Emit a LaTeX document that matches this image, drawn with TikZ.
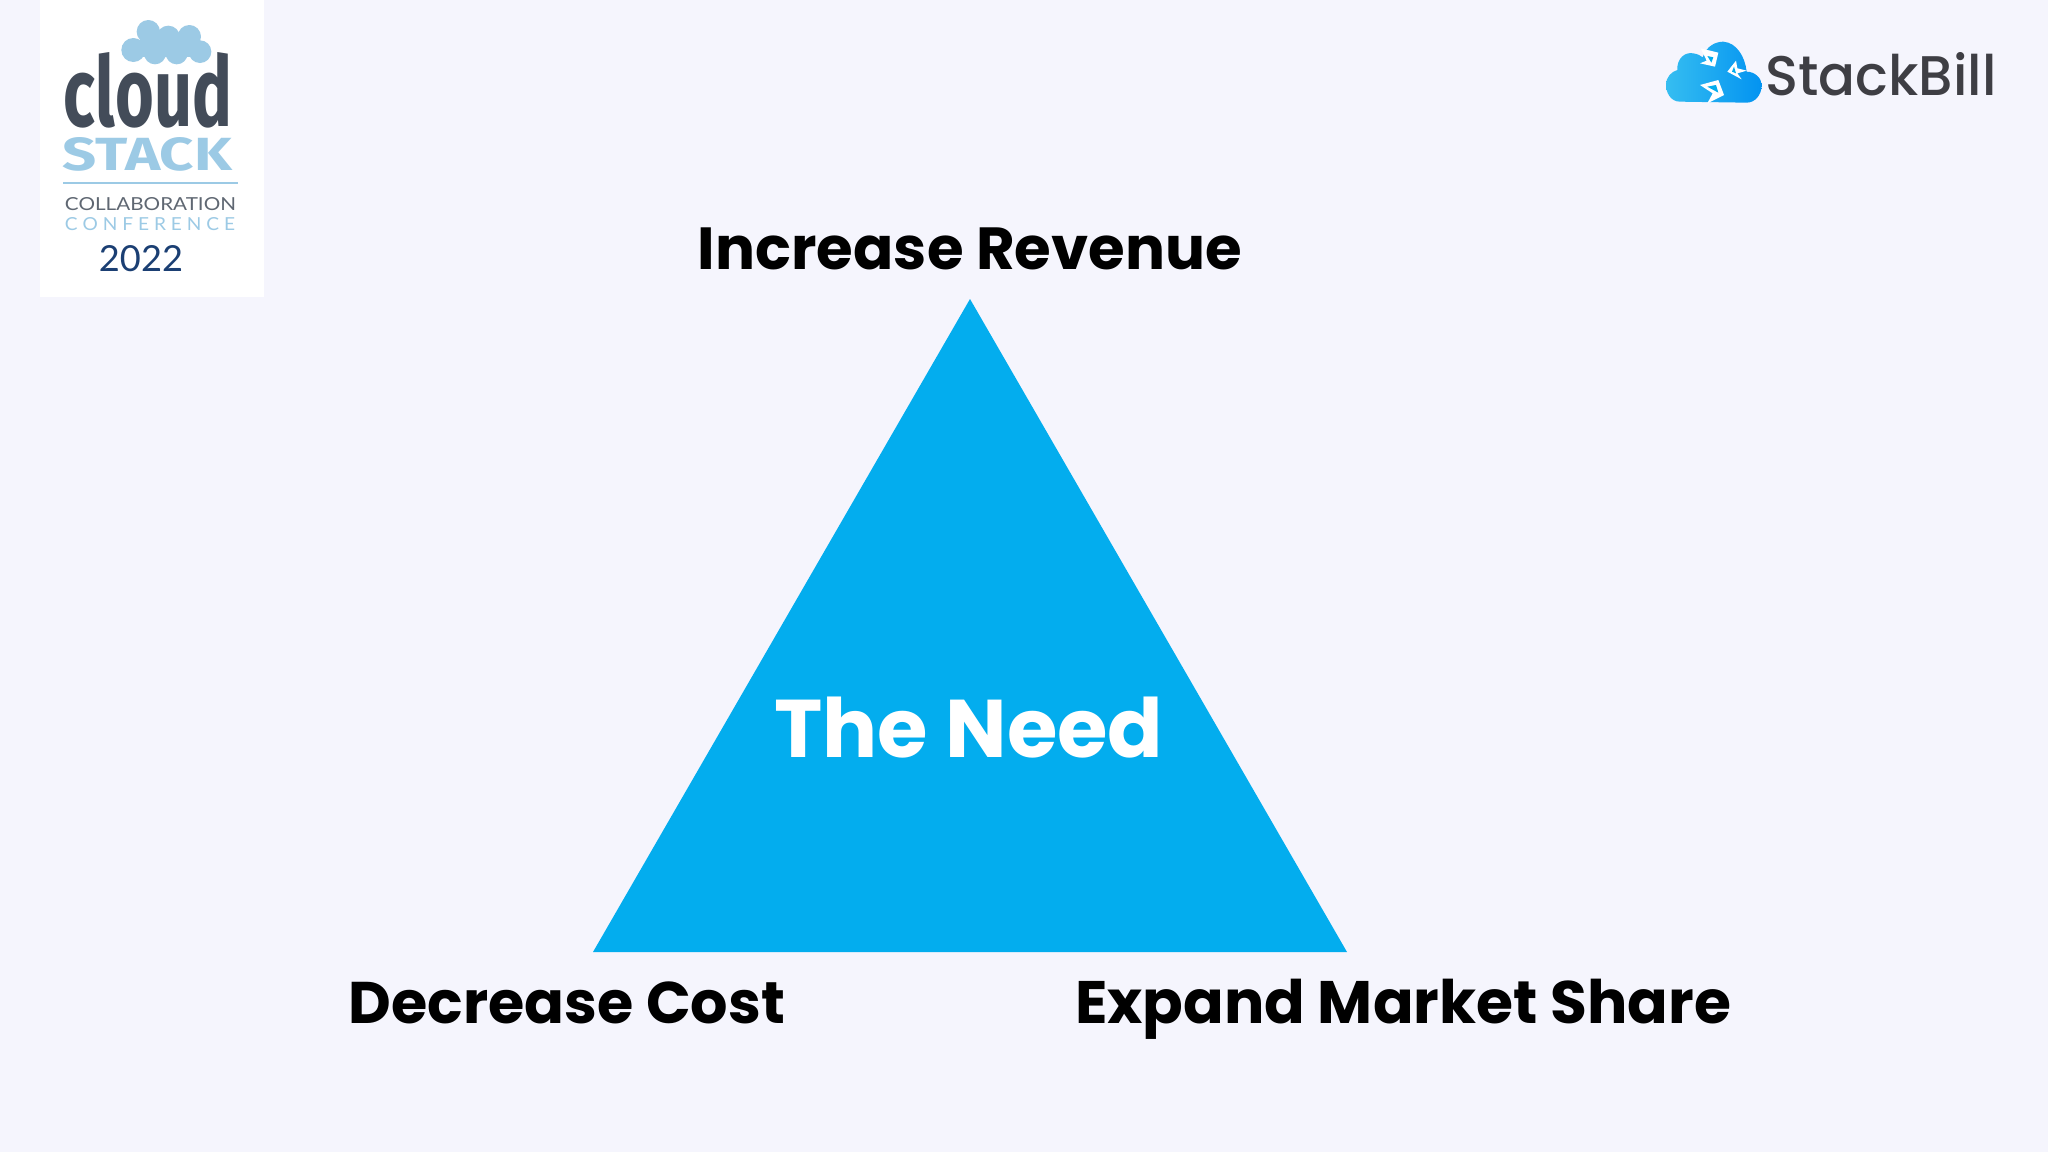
\documentclass[tikz,border=0pt]{standalone}
\usepackage{fontspec}
\usepackage{graphicx}
\setmainfont{Poppins}
\newfontfamily\logofont{Fira Sans}
\newfontfamily\lightfont{Lato}
\newfontfamily\sbfont{Poppins Medium}
\definecolor{bgc}{HTML}{F5F5FD}
\definecolor{tric}{HTML}{03ADEE}
\definecolor{lblue}{HTML}{9CCAE5}
\definecolor{dslate}{HTML}{434C59}
\definecolor{navy}{HTML}{1B3F73}
\definecolor{sbtext}{HTML}{3E3E44}
\tikzset{
 headline/.style={anchor=base,text=black,inner sep=0pt,font=\fontsize{58}{58}\selectfont\bfseries},
 logotext/.style={anchor=center,inner sep=0pt},
}
\begin{document}
\begin{tikzpicture}[x=1pt,y=-1pt]
\useasboundingbox (0,0) rectangle (2048,1152);
\fill[bgc] (0,0) rectangle (2048,1152);
% triangle
\fill[tric] (970,299) coordinate (apex) -- (1347,952) -- (593,952) -- cycle;
\node[headline] (inc) at (970,269) {\resizebox{544pt}{!}{Increase Revenue}};
\node[headline] (dec) at (567,1023) {\resizebox{436pt}{!}{Decrease Cost}};
\node[headline] (exp) at (1403,1023) {\resizebox{656pt}{!}{Expand Market Share}};
\node[headline,text=white] (need) at (969,757) {\resizebox{389pt}{!}{The Need}};
% cloudstack logo
\fill[white] (40,0) rectangle (264,297);
\begin{scope}[shift={(30,0)},scale=1/3]
\fill[lblue] (355,95) circle (35);
\fill[lblue] (415,112) circle (35);
\fill[lblue] (478,110) circle (35);
\fill[lblue] (510,155) circle (34);
\fill[lblue] (310,150) circle (36);
\fill[lblue] (375,160) circle (33);
\fill[lblue] (440,160) circle (33);
\fill[lblue] (330,110) -- (500,110) -- (500,170) -- (330,170) -- cycle;
\end{scope}
\node[logotext,text=dslate] (cl) at (148,90) {\logofont\bfseries\resizebox{168pt}{74pt}{cloud}};
\node[logotext,text=lblue] (st) at (147.5,154) {\logofont\bfseries\resizebox{169pt}{33pt}{STACK}};
\fill[lblue] (63,182) rectangle (237.5,184);
\node[logotext,text=dslate!85] (co) at (150.5,204) {\lightfont\resizebox{171pt}{13pt}{COLLABORATION}};
\node[logotext,text=lblue] (cf) at (150,224) {\lightfont\resizebox{170pt}{13pt}{C O N F E R E N C E}};
\node[logotext,text=navy] (yr) at (141,259) {\lightfont\resizebox{84pt}{26pt}{2022}};
% stackbill logo
\begin{scope}[shift={(1650,20)},scale=1/3]
\path[left color=tric!80!white,right color=tric!85!blue]
 (90,245) .. controls (60,245) and (48,215) .. (48,195)
 .. controls (48,170) and (65,155) .. (82,150)
 .. controls (80,115) and (105,95) .. (130,100)
 .. controls (145,102) and (152,108) .. (158,112)
 .. controls (170,75) and (200,65) .. (220,65)
 .. controls (260,68) and (285,110) .. (290,155)
 .. controls (315,155) and (335,175) .. (335,195)
 .. controls (335,225) and (315,248) .. (290,248) -- cycle;
\fill[white] (152,85) -- (205,98) -- (195,140) -- (150,130) -- (170,122) -- cycle;
\fill[tric] (172,108) -- (190,112) -- (184,128) -- cycle;
\fill[white] (258,122) -- (232,155) -- (275,178) -- (262,160) -- (290,152) -- (262,145) -- cycle;
\fill[tric] (252,140) -- (246,155) -- (258,160) -- cycle;
\fill[white] (150,195) -- (205,180) -- (222,225) -- (172,250) -- (188,220) -- cycle;
\fill[tric] (172,200) -- (198,195) -- (205,218) -- cycle;
\end{scope}
\node[logotext,text=sbtext] (sb) at (1881,74.5) {\sbfont\resizebox{231pt}{43pt}{StackBill}};
\end{tikzpicture}
\end{document}
